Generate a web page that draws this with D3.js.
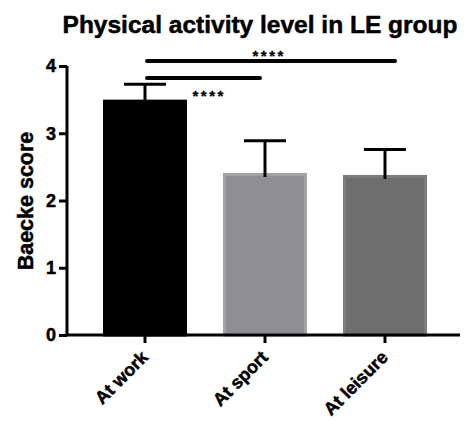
<!DOCTYPE html>
<html><head><meta charset="utf-8">
<script src="https://cdn.jsdelivr.net/npm/d3@7"></script>
<style>body{margin:0;background:#fff}svg{display:block}text{font-family:"Liberation Sans",Arial,sans-serif;font-weight:bold;stroke:#000;stroke-width:0.5px}</style>
</head><body>
<script>
const categories = ["At work", "At sport", "At leisure"];
const means = [3.5, 2.41, 2.38];
const errTop = [3.73, 2.89, 2.76];
const yTicks = [0, 1, 2, 3, 4];
const fills = ["#000000", "#8f8e93", "#6e6e6e"];
const strokes = ["#000000", "#a3a3a6", "#7c7c7c"];
const comparisons = [{a: 0, b: 1, label: "****"}, {a: 0, b: 2, label: "****"}];

const W = 471, H = 421;
const svg = d3.select("body").append("svg").attr("width", W).attr("height", H);
const x = d3.scaleBand().domain(categories).range([85, 445]).paddingInner(0.3).paddingOuter(0.15);
const y = d3.scaleLinear().domain([0, 4]).range([335, 66]);

// title
svg.append("text").attr("x", 260).attr("y", 33).attr("text-anchor", "middle")
  .style("font-size", "24.5px").text("Physical activity level in LE group");

// bars
svg.selectAll("rect.bar").data(categories).join("rect").attr("class", "bar")
  .attr("x", d => x(d) + 1.5).attr("width", x.bandwidth() - 3)
  .attr("y", (d, i) => y(means[i]) + 1.5).attr("height", (d, i) => y(0) - y(means[i]) - 1.5)
  .attr("fill", (d, i) => fills[i]).attr("stroke", (d, i) => strokes[i]).attr("stroke-width", 3);

// error bars
const cx = d => x(d) + x.bandwidth() / 2;
categories.forEach((c, i) => {
  svg.append("line").attr("x1", cx(c)).attr("x2", cx(c)).attr("y1", y(errTop[i])).attr("y2", y(means[i]) + 4)
    .attr("stroke", "#000").attr("stroke-width", 3);
  svg.append("line").attr("x1", cx(c) - 21).attr("x2", cx(c) + 21).attr("y1", y(errTop[i])).attr("y2", y(errTop[i]))
    .attr("stroke", "#000").attr("stroke-width", 3);
});

// axes
const yAxis = svg.append("g").attr("transform", "translate(67,0)")
  .call(d3.axisLeft(y).tickValues(yTicks).tickSize(8).tickPadding(3).tickFormat(d3.format("d")));
yAxis.selectAll("path,line").attr("stroke", "#000").attr("stroke-width", 3);
yAxis.select("path").attr("d", `M0,${y(4)}V${y(0)}`);
yAxis.selectAll("text").style("font-size", "18px").attr("fill", "#000");

const xAxis = svg.append("g").attr("transform", `translate(0,${y(0)})`)
  .call(d3.axisBottom(x).tickSize(8).tickPadding(4));
xAxis.select("path").attr("d", "M65.5,0H460").attr("stroke", "#000").attr("stroke-width", 3);
xAxis.selectAll("line").attr("stroke", "#000").attr("stroke-width", 3);
xAxis.selectAll("text").style("font-size", "18px").attr("fill", "#000")
  .attr("text-anchor", "end").attr("x", 0).attr("y", 0).attr("dy", 0)
  .attr("transform", "translate(4,23.5) rotate(-45)");

// y title
svg.append("text").attr("transform", "translate(33,201) rotate(-90)").attr("text-anchor", "middle")
  .style("font-size", "21.5px").text("Baecke score");

// significance
const sigY = [78, 61];
comparisons.forEach((c, k) => {
  const x1 = cx(categories[c.a]) + 2, x2 = cx(categories[c.b]) - (k === 0 ? 5 : -10);
  svg.append("line").attr("x1", x1).attr("x2", x2).attr("y1", sigY[k]).attr("y2", sigY[k])
    .attr("stroke", "#000").attr("stroke-width", 4).attr("stroke-linecap", "round");
});
const starPos = [[208, 100.5], [268, 60.5]];
comparisons.forEach((c, k) => {
  svg.append("text").attr("x", starPos[k][0] + 1.2).attr("y", starPos[k][1]).attr("text-anchor", "middle")
    .style("font-size", "15px").style("letter-spacing", "2.5px").style("stroke-width", "0.3px").text(c.label);
});
</script>
</body></html>
